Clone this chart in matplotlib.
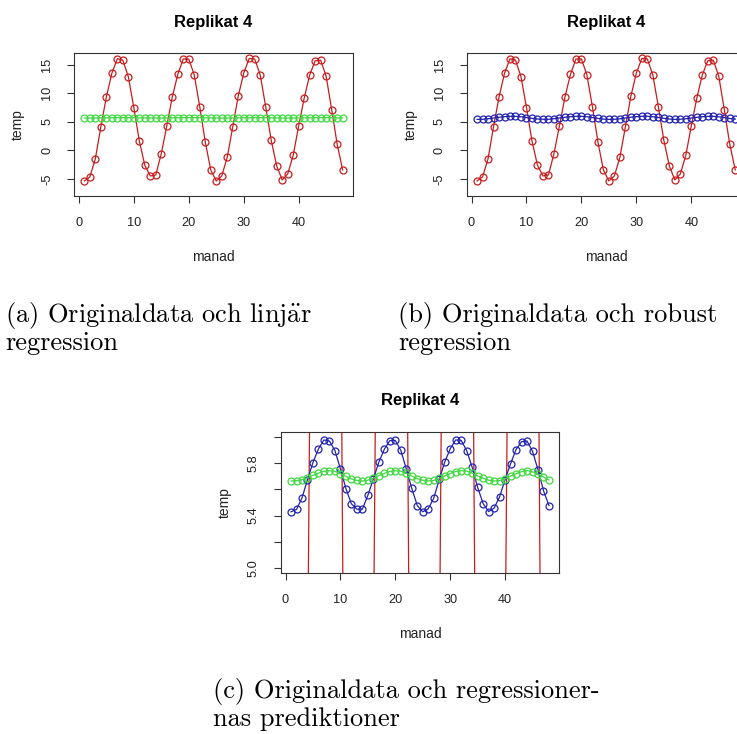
import matplotlib
matplotlib.use('Agg')
import matplotlib.pyplot as plt
import numpy as np

plt.rcParams['font.family'] = ['Liberation Sans', 'DejaVu Sans']
plt.rcParams['mathtext.fontset'] = 'cm'

# månadsdata, replikat 4
manad = np.arange(1, 49)
temp = [-5.35, -4.65, -1.49, 4.12, 9.33, 13.48, 16.05, 15.80, 12.90, 7.51, 1.67, -2.60,
        -4.47, -4.30, -0.56, 4.30, 9.33, 13.30, 16.00, 16.00, 13.20, 7.63, 1.49, -3.42,
        -5.35, -4.47, -1.20, 4.12, 9.50, 13.54, 16.10, 16.00, 13.20, 7.63, 1.78, -2.72,
        -5.17, -4.12, -0.85, 4.30, 9.15, 13.20, 15.70, 15.80, 12.95, 7.16, 1.08, -3.42]

# prediktioner från linjär regression
linjar = [5.664, 5.666, 5.674, 5.689, 5.707, 5.724, 5.738, 5.743, 5.738, 5.720, 5.699, 5.680,
          5.668, 5.664, 5.670, 5.686, 5.705, 5.722, 5.737, 5.743, 5.739, 5.722, 5.701, 5.682,
          5.669, 5.664, 5.668, 5.684, 5.703, 5.721, 5.736, 5.743, 5.740, 5.724, 5.703, 5.684,
          5.670, 5.664, 5.667, 5.682, 5.701, 5.720, 5.735, 5.744, 5.734, 5.717, 5.694, 5.672]

# prediktioner från robust regression
robust = [5.429, 5.447, 5.535, 5.674, 5.805, 5.909, 5.977, 5.969, 5.896, 5.757, 5.606, 5.490,
          5.449, 5.449, 5.555, 5.679, 5.808, 5.906, 5.972, 5.974, 5.898, 5.757, 5.608, 5.477,
          5.429, 5.452, 5.532, 5.676, 5.808, 5.909, 5.977, 5.974, 5.896, 5.770, 5.616, 5.492,
          5.431, 5.457, 5.543, 5.674, 5.795, 5.904, 5.964, 5.969, 5.891, 5.750, 5.590, 5.477]

x_ticks = [0, 10, 20, 30, 40]
y_ticks_full = [-5, 0, 5, 10, 15]
y_ticklabels_full = ['-5', '0', '5', '10', '15']
y_ticks_zoom = [5.0, 5.2, 5.4, 5.6, 5.8, 6.0]
y_ticklabels_zoom = ['5.0', '', '5.4', '', '5.8', '']

RED = '#c81c1c'
BLUE = '#2222b0'
GREEN = '#40d840'

W, H = 737, 734
fig = plt.figure(figsize=(W / 100, H / 100), dpi=100)


def add_box(x0, y0, x1, y1):
    return fig.add_axes([x0 / W, 1 - y1 / H, (x1 - x0) / W, (y1 - y0) / H])


def serie(ax, y, color):
    ax.plot(manad, y, color=color, lw=0.9, marker='o', ms=5,
            mfc='none', mec=color, mew=0.9)


def r_style(ax, yticks, yticklabels, ylim, box_w, box_h):
    ax.set_xlim(-0.88, 49.88)
    ax.set_ylim(*ylim)
    ax.set_xticks(x_ticks)
    ax.set_xticklabels([str(t) for t in x_ticks])
    ax.set_yticks(yticks)
    ax.set_yticklabels(yticklabels, va='center')
    ax.tick_params(direction='out', length=5, width=0.8, color='#333333',
                   labelsize=9.2, pad=10, labelcolor='#222222')
    ax.tick_params(axis='y', labelrotation=90)
    for s in ax.spines.values():
        s.set_color('#333333')
        s.set_linewidth(0.8)
    ax.set_title('Replikat 4', fontsize=12, fontweight='bold',
                 y=1 + 31 / box_h, va='center', pad=0)
    ax.set_xlabel('manad', fontsize=10, va='center', color='#222222')
    ax.set_ylabel('temp', fontsize=10, va='center', color='#222222')
    ax.xaxis.set_label_coords(0.5, -61 / box_h)
    ax.yaxis.set_label_coords(-56 / box_w, 0.5)


# (a) originaldata och linjär regression
ax_a = add_box(74, 53, 353, 196)
serie(ax_a, temp, RED)
serie(ax_a, linjar, GREEN)
r_style(ax_a, y_ticks_full, y_ticklabels_full, (-7.98, 17.05), 279, 143)

# (b) originaldata och robust regression
ax_b = add_box(466.7, 53, 745.6, 196)
serie(ax_b, temp, RED)
serie(ax_b, robust, BLUE)
r_style(ax_b, y_ticks_full, y_ticklabels_full, (-7.98, 17.05), 279, 143)

# (c) prediktionerna, inzoomat
ax_c = add_box(280.7, 431.7, 559.3, 573.3)
serie(ax_c, temp, RED)
serie(ax_c, robust, BLUE)
serie(ax_c, linjar, GREEN)
r_style(ax_c, y_ticks_zoom, y_ticklabels_zoom, (4.96, 6.04), 278.6, 141.6)

cap = dict(family='cmr10', fontsize=19, color='black', va='baseline', ha='left')
fig.text(5 / W, 1 - 322 / H, '(a) Originaldata och linj$\\ddot{\\mathrm{a}}$r', **cap)
fig.text(5 / W, 1 - 350 / H, 'regression', **cap)
fig.text(398 / W, 1 - 322 / H, '(b) Originaldata och robust', **cap)
fig.text(398 / W, 1 - 350 / H, 'regression', **cap)
fig.text(213 / W, 1 - 698 / H, '(c) Originaldata och regressioner-', **cap)
fig.text(213 / W, 1 - 726 / H, 'nas prediktioner', **cap)

fig.savefig('out.png', dpi=100, facecolor='white')
